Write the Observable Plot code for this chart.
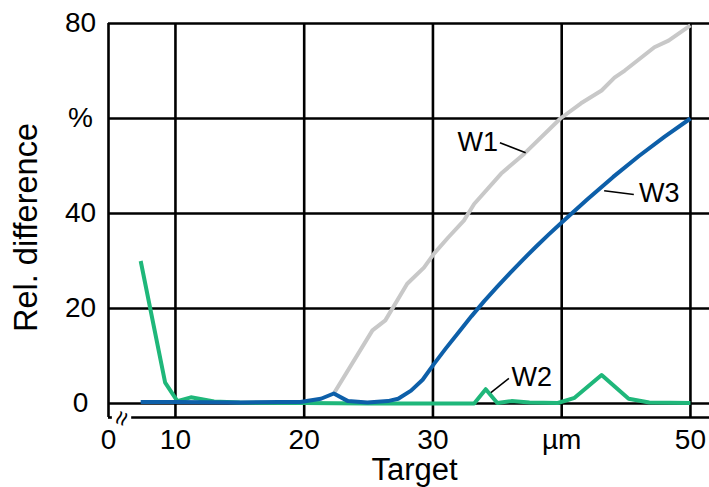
<!DOCTYPE html>
<html>
<head>
<meta charset="utf-8">
<script src="https://cdn.jsdelivr.net/npm/d3@7"></script>
<script src="https://cdn.jsdelivr.net/npm/@observablehq/plot@0.6"></script>
<style>
  html, body { margin: 0; padding: 0; background: #fff; }
  #chart svg { display: block; }
</style>
</head>
<body>
<div id="chart"></div>
<script>
// ---- data ----
const seriesNames = ["W1", "W2", "W3"];
const w1 = [[22.3,2.1],[25.3,15.4],[26.3,17.5],[28,25.2],[29.3,28.6],[30.1,31.6],[31.2,35],[32.4,38.5],[33.2,42],[35.3,48.4],[37.1,52.6],[39.9,60],[41.5,63.2],[43.1,65.9],[44.1,68.6],[44.9,70.1],[47.2,75],[48.3,76.4],[50,79.6]];
const w2 = [[7.3,30],[9.2,4.4],[10.15,0.5],[11.2,1.3],[13,0.4],[15,0.2],[20,0.1],[25,0],[30,0],[33.2,0],[34.1,3],[35,0.1],[36.1,0.5],[37.5,0.2],[39.7,0.1],[41,1.2],[43.1,6],[45.2,1],[46.8,0.2],[50,0.1]];
const w3 = [[7.3,0.3],[10,0.3],[15,0.2],[18,0.3],[19.7,0.3],[21.3,1],[22.3,2.1],[23.4,0.5],[24.9,0.2],[26.5,0.5],[27.3,1],[28.3,2.7],[29.2,5],[30.1,8.4],[31,11.6],[32,15],[33,18.4],[34,21.6],[35,24.6],[36,27.5],[37,30.3],[38,33],[39,35.6],[40,38.1],[42,43],[44,47.7],[46,52.1],[48,56.2],[50,60]];

const xTickValues = [4.8, 10, 20, 30, 40, 50];
const xTickLabels = ["0", "10", "20", "30", "µm", "50"];
const yTickValues = [0, 20, 40, 60, 80];
const yTickLabels = ["0", "20", "40", "%", "80"];
const xTitle = "Target";
const yTitle = "Rel. difference";

// label placements (data coordinates)
const labelsEnd = [{name: "W1", x: 35.06, y: 54.9}];
const labelsStart = [
  {name: "W3", x: 46.0, y: 44.2},
  {name: "W2", x: 36.1, y: 5.5}
];
const leaders = [
  {x1: 35.2, y1: 54.9, x2: 37.2, y2: 52.8},
  {x1: 43.3, y1: 44.8, x2: 45.6, y2: 44.0},
  {x1: 34.5, y1: 2.3, x2: 35.9, y2: 5.3}
];

// ---- layout ----
const xDomain = [4.8, 51.48];
const yDomain = [-2.95, 80];
const breakGapStart = 5.1, breakGapEnd = 6.6, breakMid = 5.84;

const colors = {W1: "#c8c8c8", W2: "#1fb77a", W3: "#0d5fa9"};
const toRows = (arr, name) => arr.map(([x, y]) => ({x, y, name}));
const rows = [...toRows(w1, "W1"), ...toRows(w2, "W2"), ...toRows(w3, "W3")];

const xLabelMap = new Map(xTickValues.map((v, i) => [v, xTickLabels[i]]));
const yLabelMap = new Map(yTickValues.map((v, i) => [v, yTickLabels[i]]));

const gridW = 2.6;
const tickFont = 28;

const chart = Plot.plot({
  width: 709,
  height: 487,
  marginLeft: 108,
  marginRight: 0,
  marginTop: 23,
  marginBottom: 70,
  style: {fontFamily: "'Liberation Sans', Arial, Helvetica, sans-serif", color: "#000", background: "#fff", overflow: "visible"},
  x: {type: "linear", domain: xDomain, axis: null},
  y: {type: "linear", domain: yDomain, axis: null},
  marks: [
    // grid
    Plot.ruleX(xTickValues.slice(1), {y1: yDomain[0], y2: 80, stroke: "#000", strokeWidth: gridW}),
    Plot.ruleY(yTickValues, {x1: xDomain[0], x2: xDomain[1], stroke: "#000", strokeWidth: gridW}),
    // frame left + broken bottom axis
    Plot.ruleX([xDomain[0]], {y1: yDomain[0], y2: 80, stroke: "#000", strokeWidth: gridW}),
    Plot.ruleY([yDomain[0]], {x1: xDomain[0], x2: breakGapStart, stroke: "#000", strokeWidth: gridW}),
    Plot.ruleY([yDomain[0]], {x1: breakGapEnd, x2: xDomain[1], stroke: "#000", strokeWidth: gridW}),
    Plot.text(["≈"], {x: breakMid, y: yDomain[0], rotate: -70, fontSize: 26, fill: "#000", dy: 1}),
    // series lines
    ...seriesNames.map(n => Plot.line(rows.filter(d => d.name === n), {x: "x", y: "y", stroke: colors[n], strokeWidth: 4, strokeLinejoin: "round", strokeLinecap: "butt"})),
    // leaders + labels
    Plot.link(leaders, {x1: "x1", y1: "y1", x2: "x2", y2: "y2", stroke: "#000", strokeWidth: 1.5}),
    Plot.text(labelsEnd, {x: "x", y: "y", text: "name", textAnchor: "end", fontSize: 27, fill: "#000"}),
    Plot.text(labelsStart, {x: "x", y: "y", text: "name", textAnchor: "start", fontSize: 27, fill: "#000"}),
    // axes
    Plot.axisY({ticks: yTickValues, tickFormat: d => yLabelMap.get(d), tickSize: 0, tickPadding: 0, textAnchor: "middle", dx: -28, fontSize: tickFont, label: null, fill: "#000"}),
    Plot.axisX({ticks: xTickValues, tickFormat: d => xLabelMap.get(d), tickSize: 0, tickPadding: 0, dy: 12, fontSize: tickFont, label: null, fill: "#000"}),
    // titles
    Plot.text([yTitle], {frameAnchor: "left", rotate: -90, textAnchor: "middle", lineAnchor: "middle", dx: -82, dy: 7, fontSize: 32.5, fill: "#000"}),
    Plot.text([xTitle], {frameAnchor: "bottom", textAnchor: "middle", lineAnchor: "middle", dx: 5.5, dy: 53, fontSize: 31, fill: "#000"})
  ]
});
document.getElementById("chart").appendChild(chart);
</script>
</body>
</html>
